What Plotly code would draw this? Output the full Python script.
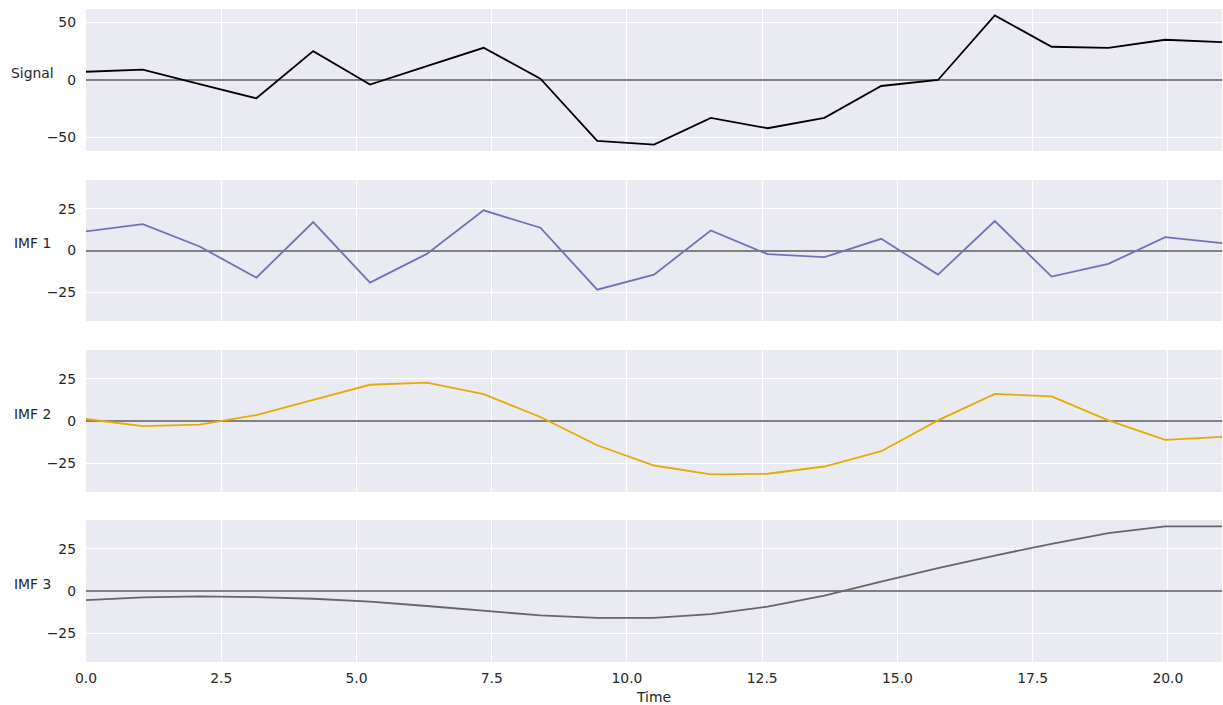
import plotly.graph_objects as go

time = [0.0, 1.05, 2.1, 3.15, 4.2, 5.25, 6.3, 7.35, 8.4, 9.45, 10.5,
        11.55, 12.6, 13.65, 14.7, 15.75, 16.8, 17.85, 18.9, 19.95, 21.0]
signal = [7.2, 9.0, -3.5, -15.9, 25.1, -4.0, 12.0, 28.0, 1.2, -52.9, -56.1,
          -32.9, -41.9, -32.9, -5.2, 0.0, 56.1, 28.9, 28.0, 35.0, 33.0]
imf1 = [11.4, 15.8, 2.4, -16.2, 17.0, -19.2, -2.0, 24.0, 13.6, -23.4, -14.4,
        12.0, -2.2, -4.0, 7.0, -14.4, 17.6, -15.6, -8.0, 8.0, 4.4]
imf2 = [1.2, -3.0, -2.2, 3.5, 12.6, 21.5, 22.8, 15.9, 2.4, -14.4, -26.4,
        -31.7, -31.3, -27.0, -17.9, 0.4, 16.1, 14.6, 0.4, -11.2, -9.4]
imf3 = [-5.4, -3.8, -3.2, -3.6, -4.6, -6.3, -8.9, -11.9, -14.5, -15.9, -15.9,
        -13.7, -9.3, -2.8, 5.6, 13.5, 21.0, 28.0, 34.3, 38.3, 38.3]

labels = ["Signal", "IMF 1", "IMF 2", "IMF 3"]
series = [signal, imf1, imf2, imf3]
colors = ["#000000", "#7570b3", "#e6ab02", "#666666"]
signal_ticks = [-50, 0, 50]
imf_ticks = [-25, 0, 25]
x_ticks = [0.0, 2.5, 5.0, 7.5, 10.0, 12.5, 15.0, 17.5, 20.0]

TXT = "#262626"
FONT = "DejaVu Sans"
FS = 13.9

domains = [[0.7825, 1.0], [0.5222, 0.7381], [0.2603, 0.4778], [0.0, 0.2175]]
sig_lim = 1.1 * max(abs(v) for v in signal)
imf_lim = 1.1 * max(abs(v) for s in (imf1, imf2, imf3) for v in s)

fig = go.Figure()
layout = {}
for i, (lab, ys, col) in enumerate(zip(labels, series, colors)):
    n = i + 1
    xa = "x" if n == 1 else f"x{n}"
    ya = "y" if n == 1 else f"y{n}"
    fig.add_trace(go.Scatter(x=time, y=ys, mode="lines", xaxis=xa, yaxis=ya,
                             line=dict(color=col, width=1.8), showlegend=False,
                             name=lab))
    lim = sig_lim if n == 1 else imf_lim
    ticks = signal_ticks if n == 1 else imf_ticks
    layout[f"xaxis{'' if n == 1 else n}"] = dict(
        domain=[0, 1], anchor=ya, range=[0, 21], tickvals=x_ticks,
        ticktext=[f"{v:.1f}" for v in x_ticks], showticklabels=(n == 4),
        gridcolor="white", gridwidth=1.1, showline=False, zeroline=False,
        ticks="", ticklabelstandoff=6,
        tickfont=dict(family=FONT, size=FS, color=TXT),
        matches=None if n == 1 else "x",
        title=dict(text="Time", font=dict(family=FONT, size=FS, color=TXT),
                   standoff=8) if n == 4 else None,
    )
    layout[f"yaxis{'' if n == 1 else n}"] = dict(
        domain=domains[i], anchor=xa, range=[-lim, lim], tickvals=ticks,
        gridcolor="white", gridwidth=1.1, showline=False,
        zeroline=True, zerolinecolor="#808080", zerolinewidth=2,
        ticks="", ticklabelstandoff=9,
        tickfont=dict(family=FONT, size=FS, color=TXT),
    )

annotations = []
for i, lab in enumerate(labels):
    n = i + 1
    annotations.append(dict(
        text=lab, xref="paper", x=-0.0475, xanchor="center",
        yref=f"{'y' if n == 1 else 'y' + str(n)} domain", y=0.55, yanchor="middle",
        showarrow=False, font=dict(family=FONT, size=FS, color=TXT)))

fig.update_layout(**layout)
fig.update_layout(
    width=1223, height=705,
    margin=dict(l=86, r=1, t=9, b=43),
    plot_bgcolor="#EAEAF2", paper_bgcolor="white",
    annotations=annotations,
    font=dict(family=FONT, size=FS, color=TXT),
)

fig.write_html("out.html", config={"displayModeBar": False},
               post_script="document.body.style.margin='0';document.body.style.overflow='hidden';")
